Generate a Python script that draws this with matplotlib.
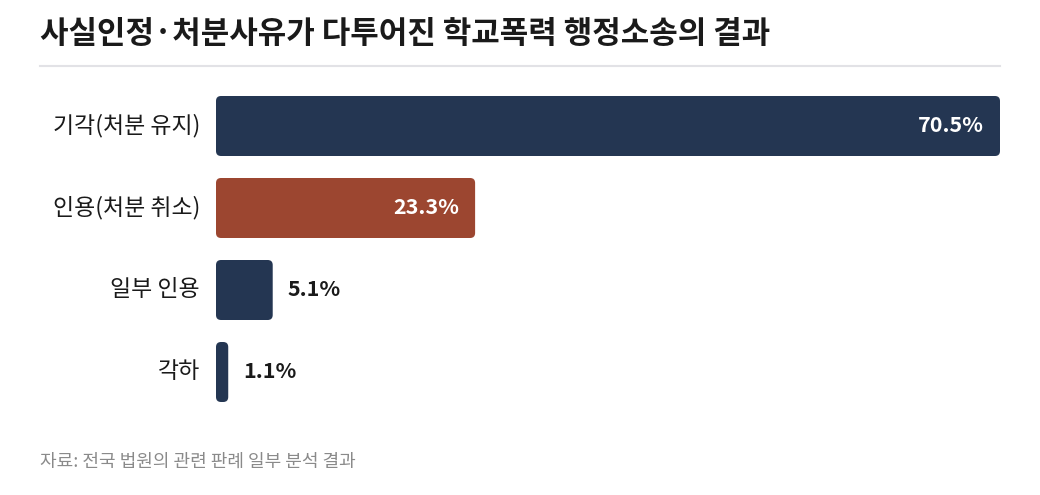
import matplotlib
matplotlib.use("Agg")
import matplotlib.pyplot as plt
from matplotlib.patches import FancyBboxPatch
from matplotlib.lines import Line2D

plt.rcParams['font.family'] = ['Noto Sans CJK KR', 'DejaVu Sans']

categories = ['기각(처분 유지)', '인용(처분 취소)', '일부 인용', '각하']
values = [70.5, 23.3, 5.1, 1.1]
colors = ['#243652', '#9c4630', '#243652', '#243652']
title = '사실인정·처분사유가 다투어진 학교폭력 행정소송의 결과'
source = '자료: 전국 법원의 관련 판례 일부 분석 결과'

W, H = 1040, 495
fig = plt.figure(figsize=(W / 100, H / 100), dpi=100)
fig.patch.set_facecolor('white')

# axes placed in pixel terms
ax_left, ax_right = 216, 1000
ax_top, ax_bottom = 85, 413
ax = fig.add_axes([ax_left / W, 1 - ax_bottom / H,
                   (ax_right - ax_left) / W, (ax_bottom - ax_top) / H])
xmax = max(values)
ax.set_xlim(0, xmax)
ax.set_ylim(len(values) - 0.5, -0.5)
ax.axis('off')

px_x = (ax_right - ax_left) / xmax
px_y = (ax_bottom - ax_top) / len(values)
bar_h = 60 / px_y
r_px = 5

for i, (v, c) in enumerate(zip(values, colors)):
    box = FancyBboxPatch((0, i - bar_h / 2), v, bar_h,
                         boxstyle=f'round,pad=0,rounding_size={r_px / px_x}',
                         mutation_aspect=px_x / px_y,
                         fc=c, ec='none')
    ax.add_patch(box)
    label = f'{v:.1f}%'
    if v > 10:
        ax.annotate(label, (v, i), xytext=(-11.5, 0), textcoords='offset points',
                    ha='right', va='center', color='white', fontsize=15.5,
                    fontweight='bold')
    else:
        ax.annotate(label, (v, i), xytext=(10.5, 0), textcoords='offset points',
                    ha='left', va='center', color='#1a1a1a', fontsize=15.5,
                    fontweight='bold')
    ax.annotate(categories[i], (0, i), xytext=(-11.5, 0), textcoords='offset points',
                ha='right', va='center', color='#1a1a1a', fontsize=16.5)

fig.text(40 / W, 1 - 34 / H, title, ha='left', va='center', fontsize=22.3,
         fontweight='bold', color='#1a1a1a')
fig.add_artist(Line2D([40 / W, 1000 / W], [1 - 66 / H, 1 - 66 / H],
                      color='#e2e2e6', lw=1.5))
fig.text(40 / W, 1 - 462 / H, source, ha='left', va='center', fontsize=13,
         color='#8a8a8a')

fig.savefig('out.png', dpi=100, facecolor='white')
